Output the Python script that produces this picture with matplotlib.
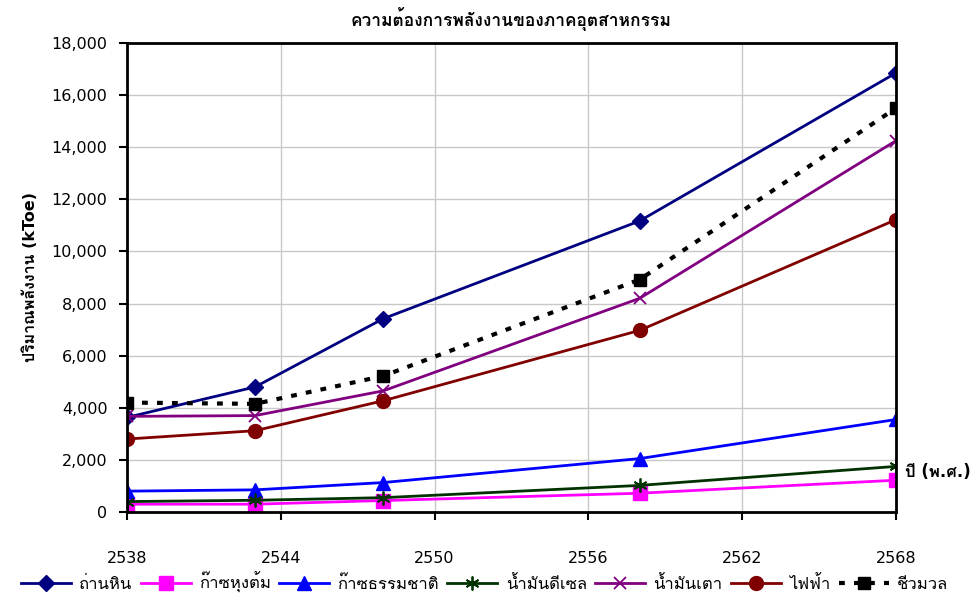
import matplotlib
matplotlib.use("Agg")
import matplotlib.pyplot as plt
import matplotlib.patheffects as pe
from matplotlib import font_manager
from matplotlib.ft2font import FT2Font

# data (kToe)
years = [2538, 2543, 2548, 2558, 2568]
coal = [3630, 4800, 7420, 11170, 16850]
lpg = [300, 300, 440, 720, 1220]
natural_gas = [800, 850, 1130, 2050, 3550]
diesel = [400, 450, 550, 1020, 1750]
fuel_oil = [3670, 3700, 4650, 8200, 14250]
electricity = [2800, 3120, 4270, 6970, 11220]
biomass = [4200, 4150, 5220, 8920, 15500]

series_names = ["ถ่านหิน", "ก๊าซหุงต้ม", "ก๊าซธรรมชาติ", "น้ำมันดีเซล",
                "น้ำมันเตา", "ไฟฟ้า", "ชีวมวล"]
x_ticks = [2538, 2544, 2550, 2556, 2562, 2568]
y_ticks = list(range(0, 18001, 2000))


def find_thai_font():
    # look for an installed font with Thai glyphs, prefer one that has a bold face
    fonts = {}
    for f in font_manager.fontManager.ttflist:
        try:
            cmap = FT2Font(f.fname).get_charmap()
        except Exception:
            continue
        if 0x0E01 in cmap and 0x0E32 in cmap:
            fonts.setdefault(f.name, set()).add(f.weight)
    if not fonts:
        return None, False
    for name, weights in fonts.items():
        if any(w in ("bold", 700) or (isinstance(w, int) and w >= 600) for w in weights):
            return name, True
    return sorted(fonts)[0], False


thai, has_bold = find_thai_font()
families = ["DejaVu Sans", thai] if thai else ["DejaVu Sans"]
plt.rcParams["font.family"] = families
# fake bold when the Thai font has no bold face
bold_fx = [] if has_bold else [pe.withStroke(linewidth=0.7, foreground="black")]

fig = plt.figure(figsize=(9.79, 5.93), dpi=100)
ax = fig.add_axes([0.1297, 0.1366, 0.7855, 0.7909])

ax.plot(years, coal, color="#000080", lw=2, marker="D", ms=8, label=series_names[0])
ax.plot(years, lpg, color="#FF00FF", lw=2, marker="s", ms=10, label=series_names[1])
ax.plot(years, natural_gas, color="#0000FF", lw=2, marker="^", ms=10, label=series_names[2])
ax.plot(years, diesel, color="#003300", lw=2, marker=(6, 2, 0), ms=10, mew=1.3, label=series_names[3])
ax.plot(years, fuel_oil, color="#800080", lw=2, marker="x", ms=9, mew=1.3, label=series_names[4])
ax.plot(years, electricity, color="#800000", lw=2, marker="o", ms=10, label=series_names[5])
ax.plot(years, biomass, color="black", lw=3, linestyle=(0, (1.4, 2.2)), marker="s", ms=9,
        label=series_names[6])

ax.set_xlim(2538, 2568)
ax.set_ylim(0, 18000)
ax.set_xticks(x_ticks)
ax.set_yticks(y_ticks)
ax.set_yticklabels([f"{v:,}" for v in y_ticks])
ax.grid(True, color="#c8c8c8", lw=1)
ax.set_axisbelow(True)
for s in ax.spines.values():
    s.set_linewidth(2)
ax.tick_params(axis="x", direction="out", length=6, width=1.5, pad=22, labelsize=11.5)
ax.tick_params(axis="y", direction="out", length=6, width=1.5, pad=8, labelsize=11.5)

ax.set_title("ความต้องการพลังงานของภาคอุตสาหกรรม", fontsize=12.5, fontweight="bold", pad=12,
             path_effects=bold_fx)
ax.set_ylabel("ปริมาณพลังงาน (kToe)", fontsize=11.5, fontweight="bold", labelpad=10,
              path_effects=bold_fx)
fig.text(0.924, 0.204, "ปี (พ.ศ.)", fontsize=12, fontweight="bold", va="center", ha="left",
         path_effects=bold_fx)

fig.legend(loc="center", bbox_to_anchor=(0.495, 0.017), ncol=7, frameon=False,
           fontsize=12, handlelength=3.0, columnspacing=0.5, handletextpad=0.5,
           borderaxespad=0)

fig.savefig("out.png", dpi=100)
